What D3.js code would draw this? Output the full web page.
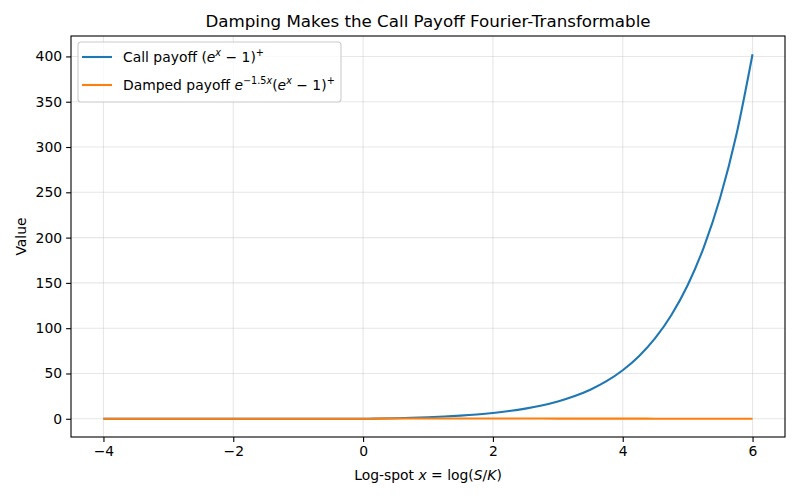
<!DOCTYPE html>
<meta charset="utf-8">
<style>
  body { margin: 0; background: #fff; }
  text { font-family: "DejaVu Sans", sans-serif; fill: #000; }
</style>
<body>
<script src="https://d3js.org/d3.v7.min.js"></script>
<script>

    // values at steps of 0.25 in x
    var xs = [-4, -3.75, -3.5, -3.25, -3, -2.75, -2.5, -2.25, -2, -1.75, -1.5, -1.25, -1, -0.75, -0.5, -0.25,
              0, 0.25, 0.5, 0.75, 1, 1.25, 1.5, 1.75, 2, 2.25, 2.5, 2.75, 3, 3.25, 3.5, 3.75,
              4, 4.25, 4.5, 4.75, 5, 5.25, 5.5, 5.75, 6];
    var callPayoff = [0, 0, 0, 0, 0, 0, 0, 0, 0, 0, 0, 0, 0, 0, 0, 0,
                      0, 0.28, 0.65, 1.12, 1.72, 2.49, 3.48, 4.75, 6.39, 8.49, 11.18, 14.64, 19.09, 24.79, 32.12, 41.52,
                      53.6, 69.1, 89.0, 114.6, 147.4, 189.6, 243.7, 313.2, 402.4];
    var dampedPayoff = [0, 0, 0, 0, 0, 0, 0, 0, 0, 0, 0, 0, 0, 0, 0, 0,
                        0, 0.195, 0.306, 0.363, 0.383, 0.382, 0.367, 0.344, 0.318, 0.29, 0.263, 0.237, 0.212, 0.189, 0.169, 0.15,
                        0.133, 0.118, 0.104, 0.092, 0.082, 0.072, 0.064, 0.056, 0.05];
    var xTicks = [-4, -2, 0, 2, 4, 6];
    var yTicks = [0, 50, 100, 150, 200, 250, 300, 350, 400];

    var margin = {top: 36, right: 15, bottom: 63, left: 71};
    var width  = 800 - margin.left - margin.right,
        height = 500 - margin.top - margin.bottom;

    var svg = d3.select("body").append("svg")
                .attr("width", 800)
                .attr("height", 500);

    var g = svg.append("g")
               .attr("transform", "translate(" + margin.left + "," + margin.top + ")");

    var x = d3.scaleLinear().domain([-4.5, 6.5]).range([0, width]);
    var y = d3.scaleLinear().domain([-20.12, 422.55]).range([height, 0]);

    // grid
    g.append("g").selectAll("line").data(xTicks).enter().append("line")
     .attr("x1", function (d) { return x(d); }).attr("x2", function (d) { return x(d); })
     .attr("y1", 0).attr("y2", height)
     .attr("stroke", "#b0b0b0").attr("stroke-opacity", 0.3).attr("stroke-width", 1.1);
    g.append("g").selectAll("line").data(yTicks).enter().append("line")
     .attr("y1", function (d) { return y(d); }).attr("y2", function (d) { return y(d); })
     .attr("x1", 0).attr("x2", width)
     .attr("stroke", "#b0b0b0").attr("stroke-opacity", 0.3).attr("stroke-width", 1.1);

    // axes
    var xAxis = g.append("g").attr("transform", "translate(0," + height + ")")
                 .call(d3.axisBottom(x).tickValues(xTicks).tickSize(4.9).tickPadding(4)
                        .tickFormat(function (d) { return d < 0 ? "\u2212" + Math.abs(d) : d; }));
    var yAxis = g.append("g")
                 .call(d3.axisLeft(y).tickValues(yTicks).tickSize(4.9).tickPadding(4));
    [xAxis, yAxis].forEach(function (a) {
        a.select(".domain").remove();
        a.selectAll("line").attr("stroke", "#000").attr("stroke-width", 1.1);
        a.selectAll("text").attr("font-size", "13.9px").attr("font-family", "DejaVu Sans");
    });

    // lines
    var line = function (vals) {
        return d3.line()
                 .x(function (d, i) { return x(xs[i]); })
                 .y(function (d) { return y(d); })
                 .curve(d3.curveMonotoneX)(vals);
    };
    g.append("path").attr("d", line(callPayoff))
     .attr("fill", "none").attr("stroke", "#1f77b4").attr("stroke-width", 2.1);
    g.append("path").attr("d", line(dampedPayoff))
     .attr("fill", "none").attr("stroke", "#ff7f0e").attr("stroke-width", 2.1);

    g.append("rect").attr("width", width).attr("height", height)
     .attr("fill", "none").attr("stroke", "#000").attr("stroke-width", 1.1);

    // title & labels
    svg.append("text").attr("x", margin.left + width / 2).attr("y", 27)
       .attr("text-anchor", "middle").attr("font-size", "16.7px")
       .text("Damping Makes the Call Payoff Fourier-Transformable");

    var xl = svg.append("text").attr("x", margin.left + width / 2).attr("y", 480)
                .attr("text-anchor", "middle").attr("font-size", "13.9px");
    xl.append("tspan").text("Log-spot ");
    xl.append("tspan").attr("font-style", "italic").text("x");
    xl.append("tspan").text(" = log(");
    xl.append("tspan").attr("font-style", "italic").text("S");
    xl.append("tspan").text("/");
    xl.append("tspan").attr("font-style", "italic").text("K");
    xl.append("tspan").text(")");

    svg.append("text").attr("transform", "translate(26," + (margin.top + height / 2) + ") rotate(-90)")
       .attr("text-anchor", "middle").attr("font-size", "13.9px").text("Value");

    // legend
    var lg = g.append("g").attr("transform", "translate(7,6)");
    lg.append("rect").attr("width", 263).attr("height", 60).attr("rx", 3)
      .attr("fill", "#fff").attr("fill-opacity", 0.8)
      .attr("stroke", "#cccccc").attr("stroke-width", 1.1);

    var items = [
        {color: "#1f77b4", y: 15, parts: [["Call payoff (", null], ["e", "i"], ["x", "si"], [" \u2212 1)", null], ["+", "s"]]},
        {color: "#ff7f0e", y: 43, parts: [["Damped payoff ", null], ["e", "i"], ["\u22121.5", "s"], ["x", "si"],
                                          ["(", null], ["e", "i"], ["x", "si"], [" \u2212 1)", null], ["+", "s"]]}
    ];
    items.forEach(function (it) {
        lg.append("line").attr("x1", 4).attr("x2", 34).attr("y1", it.y).attr("y2", it.y)
          .attr("stroke", it.color).attr("stroke-width", 2.1);
        var t = lg.append("text").attr("x", 45).attr("y", it.y + 5).attr("font-size", "13.9px");
        var prevSup = false;
        it.parts.forEach(function (p) {
            var sup = p[1] === "s" || p[1] === "si";
            var ts = t.append("tspan").text(p[0]);
            if (p[1] === "i" || p[1] === "si") ts.attr("font-style", "italic");
            if (sup && !prevSup) ts.attr("dy", -6).attr("font-size", "9.7px");
            else if (sup) ts.attr("font-size", "9.7px");
            else if (!sup && prevSup) ts.attr("dy", 6);
            prevSup = sup;
        });
    });

</script>
</body>
